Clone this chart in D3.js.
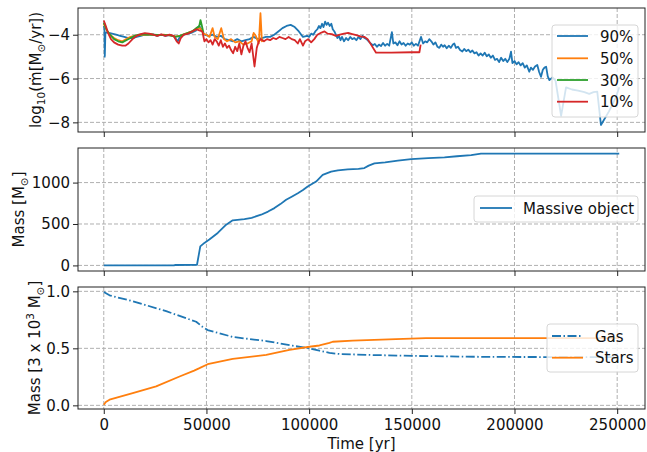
<!DOCTYPE html>
<html>
<head>
<meta charset="utf-8">
<script src="https://cdn.jsdelivr.net/npm/d3@7"></script>
<style>
  body { margin: 0; background: #fff; }
  svg { display: block; }
  text { font-family: "DejaVu Sans", sans-serif; }
</style>
</head>
<body>
<svg id="chart" width="647" height="452"></svg>
<script>
// ---- data ----
const timeTicks = [0, 50000, 100000, 150000, 200000, 250000];
const accTicks = [-8, -6, -4];
const massTicks = [0, 500, 1000];
const fracTicks = [0, 0.5, 1.0];

// log10 accretion rate, [time (yr), value]
const acc90 = [
  [0,-3.6],[300,-3.7],[500,-5.0],[800,-3.9],[2000,-3.9],[4000,-3.95],[6000,-4.0],[8000,-4.05],
  [10000,-4.1],[12000,-4.15],[14000,-4.15],[16000,-4.1],[18000,-4.05],[20000,-4.0],[22000,-4.0],
  [24000,-3.98],[26000,-4.05],[28000,-4.0],[30000,-4.05],[32000,-4.02],[34000,-4.05],[36000,-4.3],
  [37000,-4.1],[39000,-4.0],[41000,-3.95],[43000,-3.9],[45000,-3.8],[46500,-3.6],[47500,-3.75],
  [49000,-4.0],[51000,-4.05],[53000,-4.0],[55000,-4.1],[57000,-4.05],[59000,-4.2],[61000,-4.25],
  [63000,-4.3],[65000,-4.2],[67000,-4.3],[69000,-4.25],[71000,-4.2],[73000,-4.1],[75000,-4.2],
  [77000,-4.15],[79000,-4.1],[81000,-4.1],[83000,-4.0],[85000,-3.85],[87000,-3.7],[89000,-3.6],
  [91000,-3.55],[93000,-3.65],[95000,-3.85],[97000,-4.1],[99000,-4.05],[100000,-4.1],
  [101000,-3.95],[102000,-4.0],[103000,-3.85],[104000,-3.75],[104800,-3.6],[105500,-3.7],
  [106300,-3.5],[107000,-3.65],[107800,-3.4],[108500,-3.55],[109200,-3.45],[110000,-3.6],
  [110800,-3.5],[111500,-3.75],[112300,-3.85],[113000,-4.0],[113800,-4.15],[114500,-4.05],
  [115300,-4.25],[116000,-4.1],[117000,-4.3],[118000,-4.15],[119000,-4.25],[120000,-4.1],
  [121000,-4.2],[122000,-4.15],[123000,-4.25],[124000,-4.1],[125000,-4.2],[126000,-4.05],
  [127000,-4.15],[128000,-4.2],[129000,-4.3],[130000,-4.4],[131000,-4.48],[132000,-4.42],
  [133000,-4.55],[134000,-4.45],[135000,-4.52],[136000,-4.38],[137000,-4.5],[138000,-4.42],
  [139000,-4.5],[140300,-3.88],[141000,-4.4],[142000,-4.35],[143000,-4.48],[144000,-4.3],
  [145000,-4.45],[146000,-4.38],[147000,-4.5],[148000,-4.4],[149000,-4.45],[150000,-4.35],
  [151000,-4.5],[152000,-4.42],[153000,-4.5],[154500,-4.1],[155500,-4.4],[156500,-4.3],
  [157500,-4.35],[158500,-4.2],[159500,-4.3],[160500,-4.45],[161500,-4.35],[162500,-4.55],
  [163400,-4.6],[164300,-4.45],[165200,-4.55],[166000,-4.48],[167000,-4.62],[168000,-4.5],
  [169000,-4.6],[170000,-4.45],[170700,-4.4],[171500,-4.6],[172500,-4.55],[173500,-4.7],
  [174600,-4.77],[175500,-4.65],[176500,-4.75],[177500,-4.68],[178500,-4.8],[179500,-4.72],
  [180500,-4.85],[181500,-4.8],[182500,-4.95],[183500,-4.85],[184500,-4.95],[185500,-4.82],
  [186500,-4.98],[187500,-4.9],[188500,-5.05],[189500,-4.95],[190500,-5.15],[191500,-5.1],
  [192500,-5.25],[193500,-5.05],[194500,-5.2],[195500,-5.1],[196500,-5.25],[197500,-5.1],
  [198300,-4.77],[199000,-5.3],[200000,-5.2],[201000,-5.35],[202000,-5.25],[203000,-5.4],
  [204000,-5.3],[205000,-5.5],[206000,-5.4],[207200,-5.69],[208000,-5.5],[209000,-5.6],
  [210000,-5.45],[211100,-5.38],[212000,-5.7],[212900,-5.92],[213800,-5.6],[214600,-5.5],
  [215400,-5.46],[216200,-5.9],[217000,-6.07],[218500,-5.95],[220000,-6.1],[222700,-7.7],
  [225100,-6.4],[228000,-6.5],[231000,-6.55],[234000,-6.62],[236400,-6.7],[238500,-6.62],
  [240300,-6.6],[242100,-8.12],[246000,-7.5],[249400,-6.85],[251000,-6.4]
];
const acc50 = [
  [0,-3.5],[1500,-3.8],[3000,-4.0],[5000,-4.15],[7000,-4.25],[9000,-4.3],[11000,-4.2],[13000,-4.1],
  [15000,-4.05],[17000,-4.02],[20000,-4.0],[23000,-3.98],[26000,-4.03],[29000,-4.0],[32000,-4.03],
  [35000,-4.08],[37000,-4.05],[40000,-3.95],[43000,-3.85],[45000,-3.75],[47000,-3.7],[48500,-3.95],
  [50000,-4.0],[51500,-4.1],[53000,-3.7],[54000,-4.1],[55500,-4.2],[57200,-3.7],[58500,-4.2],
  [60000,-4.3],[62000,-4.2],[64000,-4.35],[66000,-4.3],[68000,-4.45],[70000,-4.4],[72000,-4.3],
  [73000,-3.92],[74000,-4.05],[75500,-4.4],[76300,-3.02],[77000,-4.3],[78000,-4.25]
];
const acc30 = [
  [0,-3.45],[1500,-3.8],[3000,-4.0],[5000,-4.2],[7000,-4.3],[9000,-4.35],[11000,-4.25],
  [13000,-4.15],[15000,-4.05],[17000,-4.0],[20000,-3.98],[24000,-4.0],[28000,-4.02],[32000,-4.02],
  [35000,-4.1],[37000,-4.05],[40000,-3.95],[43000,-3.85],[45000,-3.7],[46500,-3.6],[47100,-3.33],
  [47800,-3.6],[48500,-3.9]
];
const acc10 = [
  [0,-3.35],[1000,-3.6],[2000,-3.9],[3500,-4.2],[5000,-4.35],[7000,-4.45],[9000,-4.5],[10500,-4.5],
  [12000,-4.4],[14000,-4.2],[16000,-4.05],[18000,-3.97],[20000,-3.93],[22000,-3.95],[24000,-4.0],
  [26000,-4.05],[28000,-3.98],[30000,-4.05],[32000,-4.0],[34000,-4.05],[35500,-4.3],[36500,-4.4],
  [37500,-4.15],[39000,-4.0],[41000,-3.95],[43000,-3.85],[45000,-3.75],[46500,-3.8],[48000,-3.85],
  [49000,-4.3],[50000,-4.2],[51000,-4.35],[52000,-4.25],[53000,-4.45],[54000,-4.2],[55000,-4.3],
  [56000,-4.5],[57000,-4.25],[58000,-4.55],[59000,-4.4],[60000,-4.6],[61000,-4.5],[62000,-4.7],
  [63000,-4.85],[64000,-4.55],[65000,-4.75],[66000,-4.4],[67000,-4.9],[68000,-4.5],[69000,-4.3],
  [70000,-4.6],[71000,-4.8],[72000,-4.4],[73400,-5.45],[74500,-4.6],[75500,-4.3],[76500,-4.2],
  [78000,-4.3],[79500,-4.2],[81000,-4.25],[82500,-4.15],[84000,-4.2],[85500,-4.1],[87000,-4.15],
  [88500,-4.2],[90000,-4.1],[91500,-4.2],[93000,-4.25],[94500,-4.4],[95500,-4.2],[97000,-4.5],
  [98000,-4.3],[99500,-4.2],[101000,-4.35],[102500,-4.2],[104000,-4.0],[106000,-3.9],
  [107500,-3.85],[109000,-3.95],[111000,-3.97],[113000,-4.05],[115000,-4.0],[117000,-3.95],
  [119000,-3.92],[121000,-3.97],[123000,-4.02],[125000,-4.08],[127000,-4.1],[128500,-4.2],
  [132600,-4.82],[140000,-4.82],[150000,-4.8],[153700,-4.8],[154300,-4.45]
];

// mass of the massive object [Msun]
const massiveObj = [
  [0,0],[34000,0],[35000,5],[45400,8],[47000,230],[49000,272],[51400,312],[55500,392],[59600,492],
  [62800,544],[68500,560],[72000,575],[76600,612],[80000,650],[83100,692],[86000,740],[88800,792],
  [91500,830],[94500,872],[97000,910],[99300,952],[103400,1012],[106600,1092],[110700,1132],
  [114000,1148],[118800,1160],[124000,1165],[126900,1175],[129000,1205],[131800,1232],
  [137000,1245],[143200,1264],[149700,1284],[158000,1295],[165900,1304],[172000,1318],
  [178900,1332],[183700,1350],[251000,1350]
];

// mass fractions [3e3 Msun]
const gasFrac = [
  [0,0.995],[2800,0.965],[14100,0.913],[30400,0.826],[45000,0.733],[48000,0.69],[50600,0.66],
  [62800,0.60],[79100,0.564],[92000,0.523],[100100,0.50],[105000,0.48],[109900,0.46],
  [115000,0.45],[129300,0.442],[153700,0.433],[186200,0.425],[251000,0.422]
];
const starFrac = [
  [0,0.005],[1000,0.03],[2800,0.05],[14100,0.108],[25500,0.166],[36900,0.253],[44000,0.305],
  [46600,0.326],[50600,0.361],[62800,0.407],[79100,0.442],[90400,0.486],[100100,0.514],
  [105000,0.525],[109900,0.548],[111500,0.558],[121200,0.567],[142300,0.581],[156900,0.59],
  [251000,0.59]
];

const C = { blue: '#1f77b4', orange: '#ff7f0e', green: '#2ca02c', red: '#d62728' };

const svg = d3.select('#chart');
const left = 78, right = 645;
const x = d3.scaleLinear().domain([-12550, 263550]).range([left, right]);

const panels = [
  {
    top: 8, bottom: 132, domain: [-8.44, -2.78], ticks: accTicks, fmt: d3.format('.0f'),
    series: [
      { data: acc90, color: C.blue, label: '90%' },
      { data: acc50, color: C.orange, label: '50%' },
      { data: acc30, color: C.green, label: '30%' },
      { data: acc10, color: C.red, label: '10%' }
    ],
    legend: { x: 552, y: 25, w: 86, h: 92, rows: [36, 58.3, 80, 101.7], lx: 557, lw: 31, tx: 600 },
    ylabel: { x: 41, parts: [['log'], ['10', 'sub'], ['(ṁ[M'], ['⊙', 'sub'], ['/yr])']] }
  },
  {
    top: 148, bottom: 271, domain: [-67.5, 1417.5], ticks: massTicks, fmt: d3.format('d'),
    series: [{ data: massiveObj, color: C.blue, label: 'Massive object' }],
    legend: { x: 474, y: 196, w: 164, h: 26, rows: [208], lx: 480, lw: 32, tx: 523 },
    ylabel: { x: 24, parts: [['Mass [M'], ['⊙', 'sub'], [']']] }
  },
  {
    top: 287, bottom: 409, domain: [-0.032, 1.038], ticks: fracTicks, fmt: d3.format('.1f'),
    series: [
      { data: gasFrac, color: C.blue, label: 'Gas', dash: '9,2.5,1.5,2.5' },
      { data: starFrac, color: C.orange, label: 'Stars' }
    ],
    legend: { x: 547, y: 324, w: 91, h: 48, rows: [336, 357.7], lx: 552, lw: 31, tx: 595 },
    ylabel: { x: 40, parts: [['Mass [3 x 10'], ['3', 'sup'], [' M'], ['⊙', 'sub'], [']']] }
  }
];

const gridColor = '#b0b0b0';
const frameColor = '#222';

panels.forEach((p, i) => {
  const y = d3.scaleLinear().domain(p.domain).range([p.bottom, p.top]);
  const g = svg.append('g');

  svg.append('clipPath').attr('id', 'clip' + i)
    .append('rect').attr('x', left).attr('y', p.top)
    .attr('width', right - left).attr('height', p.bottom - p.top);

  // grid
  g.selectAll('.vg').data(timeTicks).join('line')
    .attr('x1', d => x(d)).attr('x2', d => x(d))
    .attr('y1', p.top).attr('y2', p.bottom)
    .attr('stroke', gridColor).attr('stroke-width', 1).attr('stroke-dasharray', '4,2');
  g.selectAll('.hg').data(p.ticks).join('line')
    .attr('x1', left).attr('x2', right)
    .attr('y1', d => y(d)).attr('y2', d => y(d))
    .attr('stroke', gridColor).attr('stroke-width', 1).attr('stroke-dasharray', '4,2');

  // lines
  const line = d3.line().x(d => x(d[0])).y(d => y(d[1]));
  const lg = g.append('g').attr('clip-path', `url(#clip${i})`);
  p.series.forEach(s => {
    lg.append('path').datum(s.data)
      .attr('d', line)
      .attr('fill', 'none')
      .attr('stroke', s.color)
      .attr('stroke-width', 1.8)
      .attr('stroke-linejoin', 'round')
      .attr('stroke-dasharray', s.dash || null);
  });

  // axes
  const yAxis = g.append('g').attr('transform', `translate(${left},0)`)
    .call(d3.axisLeft(y).tickValues(p.ticks).tickFormat(p.fmt).tickSize(5).tickPadding(3));
  const xAxis = g.append('g').attr('transform', `translate(0,${p.bottom})`)
    .call(d3.axisBottom(x).tickValues(timeTicks)
      .tickFormat(i === 2 ? d3.format('d') : '').tickSize(5).tickPadding(5));
  [yAxis, xAxis].forEach(a => {
    a.select('.domain').remove();
    a.selectAll('line').attr('stroke', frameColor);
    a.selectAll('text').attr('fill', '#111').style('font-size', '15px');
  });

  // frame
  g.append('rect')
    .attr('x', left).attr('y', p.top)
    .attr('width', right - left).attr('height', p.bottom - p.top)
    .attr('fill', 'none').attr('stroke', frameColor).attr('stroke-width', 1);

  // legend
  const L = p.legend;
  const lgd = g.append('g');
  lgd.append('rect')
    .attr('x', L.x).attr('y', L.y).attr('width', L.w).attr('height', L.h)
    .attr('rx', 3).attr('fill', '#fff').attr('fill-opacity', 0.8)
    .attr('stroke', '#d6d6d6').attr('stroke-width', 1);
  p.series.forEach((s, k) => {
    const ry = L.rows[k];
    lgd.append('line')
      .attr('x1', L.lx).attr('x2', L.lx + L.lw).attr('y1', ry).attr('y2', ry)
      .attr('stroke', s.color).attr('stroke-width', 1.8)
      .attr('stroke-dasharray', s.dash || null);
    lgd.append('text')
      .attr('x', L.tx).attr('y', ry + 5.5)
      .style('font-size', '15px').attr('fill', '#111')
      .text(s.label);
  });

  // y label
  const cy = (p.top + p.bottom) / 2;
  const yl = svg.append('text')
    .attr('transform', `translate(${p.ylabel.x},${cy}) rotate(-90)`)
    .attr('text-anchor', 'middle')
    .style('font-size', '15px').attr('fill', '#111');
  let shift = 0;
  p.ylabel.parts.forEach(([txt, kind]) => {
    const target = kind === 'sub' ? 4 : kind === 'sup' ? -6 : 0;
    yl.append('tspan')
      .attr('dy', target - shift)
      .style('font-size', kind ? '10.5px' : '15px')
      .text(txt);
    shift = target;
  });
});

// x label
svg.append('text')
  .attr('x', (left + right) / 2).attr('y', 449)
  .attr('text-anchor', 'middle')
  .style('font-size', '15px').attr('fill', '#111')
  .text('Time [yr]');
</script>
</body>
</html>
